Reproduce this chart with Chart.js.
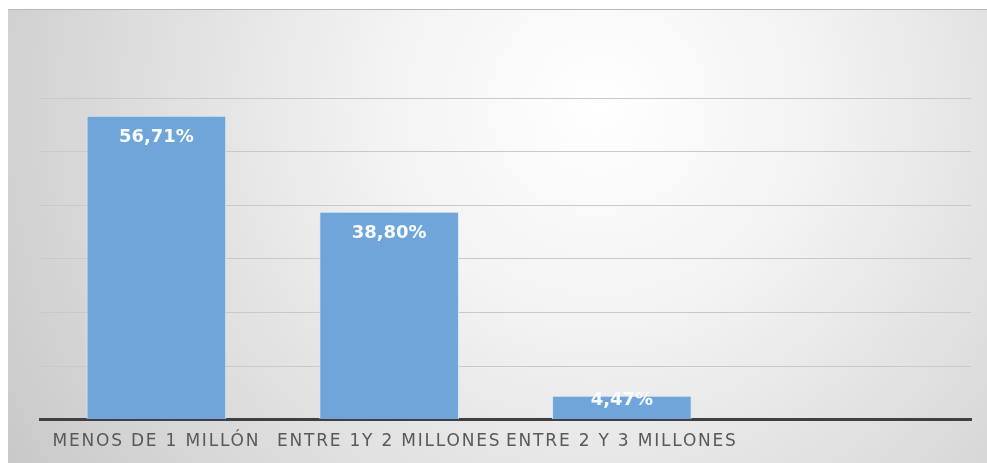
<!DOCTYPE html>
<html>
<head>
<meta charset="utf-8">
<script src="https://cdn.jsdelivr.net/npm/chart.js@4"></script>
<style>
  html, body { margin: 0; padding: 0; background: #fff; overflow: hidden; }
  #wrap {
    position: absolute; left: 8px; top: 9px;
    width: 979px; height: 456px;
    border-top: 1px solid #b8b8b8;
    box-sizing: border-box;
  }
</style>
</head>
<body>
<div id="wrap"><canvas id="chart"></canvas></div>
<script>
// ─── Data ────────────────────────────────────────────────────────────
const categories = ['MENOS DE 1 MILLÓN', 'ENTRE 1Y 2 MILLONES', 'ENTRE 2 Y 3 MILLONES', ''];
const shares = [56.71, 38.80, 4.47, null];
const shareLabels = ['56,71%', '38,80%', '4,47%', ''];
const gridSteps = [0, 10, 20, 30, 40, 50, 60];

// ─── Plugins ─────────────────────────────────────────────────────────
// soft radial background, like the office chart style
const backdrop = {
    id: 'backdrop',
    beforeDraw(chart) {
        const { ctx, width, height } = chart;
        const g = ctx.createRadialGradient(590, 95, 0, 590, 95, 720);
        g.addColorStop(0, '#ffffff');
        g.addColorStop(0.3, '#f3f3f3');
        g.addColorStop(1, '#c6c6c6');
        ctx.save();
        ctx.fillStyle = g;
        ctx.fillRect(0, 0, width, height);
        ctx.restore();
        // wide look of the axis labels
        ctx.letterSpacing = '1.8px';
    },
    afterDraw(chart) {
        chart.ctx.letterSpacing = '0px';
    }
};

// white value labels near the top of each bar
const valueLabels = {
    id: 'valueLabels',
    afterDatasetsDraw(chart) {
        const { ctx } = chart;
        const meta = chart.getDatasetMeta(0);
        ctx.save();
        ctx.letterSpacing = '0px';
        ctx.font = 'bold 18px "DejaVu Sans"';
        ctx.fillStyle = '#f8fbff';
        ctx.textAlign = 'center';
        ctx.textBaseline = 'middle';
        meta.data.forEach((bar, i) => {
            if (shares[i] == null) return;
            const y = Math.min(bar.y + 22, bar.base - 19);
            ctx.fillText(shareLabels[i], bar.x, y);
        });
        ctx.restore();
    }
};

// ─── Chart ───────────────────────────────────────────────────────────
new Chart(document.getElementById('chart'), {
    type: 'bar',
    data: {
        labels: categories,
        datasets: [{
            data: shares,
            backgroundColor: '#6FA5D9',
            borderColor: '#d6e6f5',
            borderWidth: 1,
            categoryPercentage: 0.6,
            barPercentage: 1
        }]
    },
    options: {
        responsive: true,
        maintainAspectRatio: false,
        animation: false,
        layout: { padding: { left: 32, right: 16, top: 88, bottom: 1 } },
        plugins: {
            legend: { display: false },
            tooltip: { enabled: false }
        },
        scales: {
            y: {
                min: 0,
                max: 60,
                afterBuildTicks: axis => { axis.ticks = gridSteps.map(v => ({ value: v })); },
                ticks: { display: false },
                grid: { color: '#c9c9c9', lineWidth: 1, drawTicks: false },
                border: { display: false }
            },
            x: {
                ticks: {
                    color: '#595959',
                    font: { family: 'DejaVu Sans', size: 17 },
                    autoSkip: false,
                    maxRotation: 0,
                    minRotation: 0,
                    padding: 12
                },
                grid: { display: false, drawTicks: false },
                border: { color: '#404040', width: 3 }
            }
        }
    },
    plugins: [backdrop, valueLabels]
});
</script>
</body>
</html>
